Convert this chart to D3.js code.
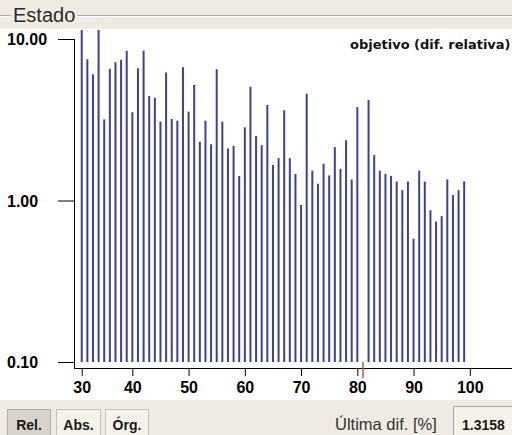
<!DOCTYPE html>
<html>
<head>
<meta charset="utf-8">
<script src="https://cdn.jsdelivr.net/npm/d3@7"></script>
<style>
  html, body { margin: 0; padding: 0; background: #efebe3; overflow: hidden; }
  svg { display: block; }
</style>
</head>
<body>
<svg id="chart" width="512" height="435"></svg>
<script>
// Iterations that have a recorded relative difference (81 has none)
const iterations = [
  31, 32, 33, 34, 35, 36, 37, 38, 39, 40,
  41, 42, 43, 44, 45, 46, 47, 48, 49, 50,
  51, 52, 53, 54, 55, 56, 57, 58, 59, 60,
  61, 62, 63, 64, 65, 66, 67, 68, 69, 70,
  71, 72, 73, 74, 75, 76, 77, 78, 79, 80,
  82, 83, 84, 85, 86, 87, 88, 89, 90,
  91, 92, 93, 94, 95, 96, 97, 98, 99
];
// Relative difference of the objective [%] per iteration
const relDiff = [
  12.4, 7.49, 6.04, 12.1, 3.18, 6.55, 7.17, 7.45, 8.46, 3.52,
  6.59, 8.46, 4.44, 4.33, 3.08, 6.20, 3.20, 3.12, 6.68, 3.55,
  5.19, 2.31, 3.12, 2.23, 6.49, 3.08, 2.10, 2.18, 1.42, 2.84,
  5.07, 2.51, 2.20, 3.90, 1.66, 1.83, 3.62, 1.83, 1.46, 0.94,
  4.58, 1.53, 1.27, 1.69, 1.43, 2.14, 1.57, 2.36, 1.35, 3.79,
  4.19, 1.91, 1.53, 1.46, 1.42, 1.31, 1.16, 1.31, 0.58,
  1.53, 1.31, 0.87, 0.74, 0.80, 1.35, 1.08, 1.16, 1.3158
];
const markerIteration = 81;

const xTickValues = [31, 40, 50, 60, 70, 80, 90, 100];
const xTickLabels = ["30", "40", "50", "60", "70", "80", "90", "100"];
const yTickValues = [10, 1, 0.1];
const yTickLabels = ["10.00", "1.00", "0.10"];

const panelTitle = "Estado";
const plotTitle = "objetivo (dif. relativa)";
const modeButtons = ["Rel.", "Abs.", "Órg."];
const activeMode = "Rel.";
const lastLabel = "Última dif. [%]";

const W = 512, H = 435;
const BEIGE = "#efebe3";
const BAR = "#3f3f96";
const SANS = "'Liberation Sans', Arial, sans-serif";

const svg = d3.select("#chart");

// Window background
svg.append("rect").attr("width", W).attr("height", H).attr("fill", BEIGE);

// Group box frame line with title
svg.append("line").attr("x1", 0).attr("x2", W).attr("y1", 15.5).attr("y2", 15.5)
  .attr("stroke", "#aca899");
svg.append("line").attr("x1", 0).attr("x2", W).attr("y1", 16.5).attr("y2", 16.5)
  .attr("stroke", "#ffffff");
svg.append("rect").attr("x", 11).attr("y", 4).attr("width", 66).attr("height", 22)
  .attr("fill", BEIGE);
svg.append("text").attr("x", 13).attr("y", 22)
  .attr("font-family", SANS).attr("font-size", 20).attr("fill", "#2a2a2a")
  .text(panelTitle);

// White plotting panel
svg.append("rect").attr("x", 0).attr("y", 29).attr("width", W).attr("height", 371)
  .attr("fill", "#ffffff");

// Scales
const x = d3.scaleLinear().domain([30, 100]).range([76.1, 469.8]);
const y = d3.scaleLog().domain([0.1, 10]).range([362, 39]);

const axisX = 74;      // position of the vertical axis line
const axisY = 368;     // position of the horizontal axis line
const plotTop = 30;

// Bars clipped to the plot frame
svg.append("clipPath").attr("id", "plotClip")
  .append("rect").attr("x", axisX).attr("y", plotTop)
  .attr("width", W - axisX).attr("height", y(0.1) - plotTop);

const data = iterations.map((it, i) => ({ it, v: relDiff[i] }));

svg.append("g").attr("clip-path", "url(#plotClip)")
  .selectAll("line").data(data).join("line")
  .attr("x1", d => x(d.it)).attr("x2", d => x(d.it))
  .attr("y1", y(0.1)).attr("y2", d => y(d.v))
  .attr("stroke", BAR).attr("stroke-width", 2);

// Y axis (log)
const yAxis = d3.axisLeft(y).tickValues(yTickValues).tickSize(16)
  .tickFormat((d, i) => yTickLabels[i]);
const gy = svg.append("g").attr("transform", `translate(${axisX},0)`).call(yAxis);
gy.select(".domain").remove();
gy.selectAll(".tick line").attr("stroke", "#000");
gy.selectAll(".tick text")
  .attr("x", 7 - axisX).attr("dy", "0.36em").attr("text-anchor", "start")
  .attr("font-family", SANS).attr("font-size", 16).attr("font-weight", "bold")
  .attr("fill", "#000");
svg.append("line").attr("x1", axisX + 0.5).attr("x2", axisX + 0.5)
  .attr("y1", y(10)).attr("y2", axisY + 0.5).attr("stroke", "#000");

// X axis
const xAxis = d3.axisBottom(x).tickValues(xTickValues).tickSize(8)
  .tickFormat((d, i) => xTickLabels[i]);
const gx = svg.append("g").attr("transform", `translate(0,${axisY})`).call(xAxis);
gx.select(".domain").remove();
gx.selectAll(".tick line").attr("stroke", "#000");
gx.selectAll(".tick text")
  .attr("y", 13.5)
  .attr("font-family", SANS).attr("font-size", 16).attr("font-weight", "bold")
  .attr("fill", "#000");
svg.append("line").attr("x1", axisX).attr("x2", W)
  .attr("y1", axisY + 0.5).attr("y2", axisY + 0.5).attr("stroke", "#000");

// Current-iteration marker
svg.append("line")
  .attr("x1", x(markerIteration)).attr("x2", x(markerIteration))
  .attr("y1", y(0.1)).attr("y2", 378)
  .attr("stroke", "#c4584a").attr("stroke-width", 1.5);

// Plot title
svg.append("text").attr("x", 350).attr("y", 49)
  .attr("font-family", "'DejaVu Sans', Verdana, sans-serif")
  .attr("font-size", 13).attr("font-weight", "bold").attr("fill", "#111")
  .text(plotTitle);

// Mode buttons
const btnX = [7, 56, 105];
const btnW = [43, 44, 43];
const btns = svg.append("g").selectAll("g").data(modeButtons).join("g");
btns.append("rect")
  .attr("x", (d, i) => btnX[i] + 0.5).attr("y", 409.5)
  .attr("width", (d, i) => btnW[i]).attr("height", 30)
  .attr("fill", d => d === activeMode ? "#d8d4cb" : "#f5f2ea")
  .attr("stroke", d => d === activeMode ? "#b3afa3" : "#c6c2b6");
btns.append("text")
  .attr("x", (d, i) => btnX[i] + btnW[i] / 2 + 0.5).attr("y", 430)
  .attr("text-anchor", "middle")
  .attr("font-family", SANS).attr("font-size", 14).attr("font-weight", "bold")
  .attr("fill", "#1a1a1a")
  .text(d => d);

// Last difference readout
svg.append("text").attr("x", 335).attr("y", 430)
  .attr("font-family", SANS).attr("font-size", 16.5).attr("fill", "#333")
  .text(lastLabel);
svg.append("rect").attr("x", 453.5).attr("y", 406.5).attr("width", 70).attr("height", 35)
  .attr("fill", "#f5f2ea").attr("stroke", "#aaa69a");
svg.append("text").attr("x", 462).attr("y", 430)
  .attr("font-family", SANS).attr("font-size", 14).attr("font-weight", "bold")
  .attr("fill", "#1a1a1a")
  .text(relDiff[relDiff.length - 1].toFixed(4));
</script>
</body>
</html>
